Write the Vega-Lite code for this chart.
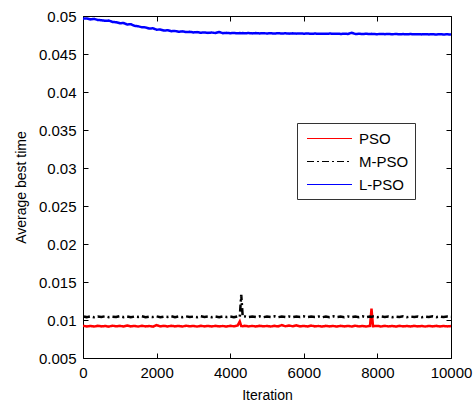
{
  "$schema": "https://vega.github.io/schema/vega-lite/v6.json",
  "width": 368,
  "height": 342,
  "autosize": {"type": "none"},
  "padding": {"left": 83, "top": 16, "right": 25, "bottom": 45},
  "background": "white",
  "config": {
    "view": {"stroke": "black", "strokeWidth": 1},
    "font": "Liberation Sans",
    "axis": {"grid": false, "labelFont": "Liberation Sans", "titleFont": "Liberation Sans", "labelFontSize": 15, "titleFontSize": 14, "labelColor": "black", "titleColor": "black", "titleFontWeight": "normal", "domainColor": "black", "tickColor": "black", "labelFlush": false},
    "legend": {"orient": "none", "legendX": 214, "legendY": 107, "symbolType": "M-2.5,0H2.5", "symbolSize": 324, "symbolStrokeWidth": 1, "symbolOffset": 17, "labelOffset": 20, "labelFontSize": 15, "labelFont": "Liberation Sans", "labelColor": "black", "strokeColor": "#333", "fillColor": "white", "padding": 6, "rowPadding": 5}
  },
  "data": {"values": [
    {"it":0,"PSO":0.00925,"M-PSO":0.01045,"L-PSO":0.04965},
    {"it":100,"PSO":0.00915,"M-PSO":0.01038,"L-PSO":0.04968},
    {"it":200,"PSO":0.00922,"M-PSO":0.01048,"L-PSO":0.04955},
    {"it":300,"PSO":0.00914,"M-PSO":0.01036,"L-PSO":0.04962},
    {"it":400,"PSO":0.00924,"M-PSO":0.01046,"L-PSO":0.04948},
    {"it":500,"PSO":0.00916,"M-PSO":0.01040,"L-PSO":0.04945},
    {"it":600,"PSO":0.00921,"M-PSO":0.01049,"L-PSO":0.04936},
    {"it":700,"PSO":0.00913,"M-PSO":0.01037,"L-PSO":0.04940},
    {"it":800,"PSO":0.00925,"M-PSO":0.01044,"L-PSO":0.04922},
    {"it":900,"PSO":0.00917,"M-PSO":0.01039,"L-PSO":0.04918},
    {"it":1000,"PSO":0.00923,"M-PSO":0.01050,"L-PSO":0.04905},
    {"it":1100,"PSO":0.00915,"M-PSO":0.01038,"L-PSO":0.04908},
    {"it":1200,"PSO":0.00927,"M-PSO":0.01047,"L-PSO":0.04888},
    {"it":1300,"PSO":0.00916,"M-PSO":0.01036,"L-PSO":0.04892},
    {"it":1400,"PSO":0.00922,"M-PSO":0.01046,"L-PSO":0.04870},
    {"it":1500,"PSO":0.00914,"M-PSO":0.01040,"L-PSO":0.04865},
    {"it":1600,"PSO":0.00924,"M-PSO":0.01049,"L-PSO":0.04852},
    {"it":1700,"PSO":0.00916,"M-PSO":0.01037,"L-PSO":0.04850},
    {"it":1800,"PSO":0.00921,"M-PSO":0.01045,"L-PSO":0.04835},
    {"it":1900,"PSO":0.00913,"M-PSO":0.01039,"L-PSO":0.04838},
    {"it":2000,"PSO":0.00932,"M-PSO":0.01048,"L-PSO":0.04820},
    {"it":2100,"PSO":0.00916,"M-PSO":0.01036,"L-PSO":0.04822},
    {"it":2200,"PSO":0.00923,"M-PSO":0.01045,"L-PSO":0.04808},
    {"it":2300,"PSO":0.00915,"M-PSO":0.01040,"L-PSO":0.04812},
    {"it":2400,"PSO":0.00924,"M-PSO":0.01049,"L-PSO":0.04800},
    {"it":2500,"PSO":0.00916,"M-PSO":0.01037,"L-PSO":0.04803},
    {"it":2600,"PSO":0.00922,"M-PSO":0.01046,"L-PSO":0.04793},
    {"it":2700,"PSO":0.00914,"M-PSO":0.01038,"L-PSO":0.04798},
    {"it":2800,"PSO":0.00925,"M-PSO":0.01048,"L-PSO":0.04788},
    {"it":2900,"PSO":0.00917,"M-PSO":0.01039,"L-PSO":0.04792},
    {"it":3000,"PSO":0.00921,"M-PSO":0.01045,"L-PSO":0.04784},
    {"it":3100,"PSO":0.00914,"M-PSO":0.01037,"L-PSO":0.04788},
    {"it":3200,"PSO":0.00924,"M-PSO":0.01049,"L-PSO":0.04780},
    {"it":3300,"PSO":0.00916,"M-PSO":0.01040,"L-PSO":0.04784},
    {"it":3400,"PSO":0.00922,"M-PSO":0.01046,"L-PSO":0.04778},
    {"it":3500,"PSO":0.00915,"M-PSO":0.01036,"L-PSO":0.04782},
    {"it":3600,"PSO":0.00923,"M-PSO":0.01047,"L-PSO":0.04776},
    {"it":3700,"PSO":0.00916,"M-PSO":0.01038,"L-PSO":0.04790},
    {"it":3800,"PSO":0.00921,"M-PSO":0.01048,"L-PSO":0.04774},
    {"it":3900,"PSO":0.00914,"M-PSO":0.01039,"L-PSO":0.04778},
    {"it":4000,"PSO":0.00924,"M-PSO":0.01045,"L-PSO":0.04773},
    {"it":4100,"PSO":0.00917,"M-PSO":0.01037,"L-PSO":0.04777},
    {"it":4200,"PSO":0.00926,"M-PSO":0.01048,"L-PSO":0.04772},
    {"it":4260,"PSO":0.00980,"M-PSO":0.01040,"L-PSO":0.04776},
    {"it":4300,"PSO":0.00921,"M-PSO":0.01330,"L-PSO":0.04773},
    {"it":4340,"PSO":0.00919,"M-PSO":0.01042,"L-PSO":0.04775},
    {"it":4400,"PSO":0.00924,"M-PSO":0.01047,"L-PSO":0.04772},
    {"it":4500,"PSO":0.00916,"M-PSO":0.01038,"L-PSO":0.04776},
    {"it":4600,"PSO":0.00922,"M-PSO":0.01046,"L-PSO":0.04771},
    {"it":4700,"PSO":0.00915,"M-PSO":0.01039,"L-PSO":0.04775},
    {"it":4800,"PSO":0.00924,"M-PSO":0.01048,"L-PSO":0.04771},
    {"it":4900,"PSO":0.00917,"M-PSO":0.01037,"L-PSO":0.04774},
    {"it":5000,"PSO":0.00921,"M-PSO":0.01045,"L-PSO":0.04770},
    {"it":5100,"PSO":0.00914,"M-PSO":0.01040,"L-PSO":0.04774},
    {"it":5200,"PSO":0.00923,"M-PSO":0.01049,"L-PSO":0.04769},
    {"it":5300,"PSO":0.00916,"M-PSO":0.01037,"L-PSO":0.04773},
    {"it":5400,"PSO":0.00932,"M-PSO":0.01046,"L-PSO":0.04770},
    {"it":5500,"PSO":0.00918,"M-PSO":0.01039,"L-PSO":0.04772},
    {"it":5600,"PSO":0.00928,"M-PSO":0.01047,"L-PSO":0.04768},
    {"it":5700,"PSO":0.00917,"M-PSO":0.01038,"L-PSO":0.04772},
    {"it":5800,"PSO":0.00929,"M-PSO":0.01046,"L-PSO":0.04768},
    {"it":5900,"PSO":0.00916,"M-PSO":0.01040,"L-PSO":0.04771},
    {"it":6000,"PSO":0.00922,"M-PSO":0.01048,"L-PSO":0.04767},
    {"it":6100,"PSO":0.00915,"M-PSO":0.01037,"L-PSO":0.04770},
    {"it":6200,"PSO":0.00926,"M-PSO":0.01045,"L-PSO":0.04766},
    {"it":6300,"PSO":0.00916,"M-PSO":0.01039,"L-PSO":0.04769},
    {"it":6400,"PSO":0.00921,"M-PSO":0.01047,"L-PSO":0.04766},
    {"it":6500,"PSO":0.00914,"M-PSO":0.01036,"L-PSO":0.04768},
    {"it":6600,"PSO":0.00923,"M-PSO":0.01046,"L-PSO":0.04765},
    {"it":6700,"PSO":0.00916,"M-PSO":0.01038,"L-PSO":0.04769},
    {"it":6800,"PSO":0.00921,"M-PSO":0.01048,"L-PSO":0.04766},
    {"it":6900,"PSO":0.00914,"M-PSO":0.01039,"L-PSO":0.04768},
    {"it":7000,"PSO":0.00923,"M-PSO":0.01045,"L-PSO":0.04764},
    {"it":7100,"PSO":0.00916,"M-PSO":0.01037,"L-PSO":0.04767},
    {"it":7200,"PSO":0.00922,"M-PSO":0.01047,"L-PSO":0.04764},
    {"it":7300,"PSO":0.00915,"M-PSO":0.01039,"L-PSO":0.04780},
    {"it":7400,"PSO":0.00924,"M-PSO":0.01046,"L-PSO":0.04763},
    {"it":7500,"PSO":0.00916,"M-PSO":0.01038,"L-PSO":0.04766},
    {"it":7600,"PSO":0.00921,"M-PSO":0.01048,"L-PSO":0.04763},
    {"it":7700,"PSO":0.00915,"M-PSO":0.01037,"L-PSO":0.04766},
    {"it":7800,"PSO":0.00923,"M-PSO":0.01045,"L-PSO":0.04762},
    {"it":7840,"PSO":0.01150,"M-PSO":0.01040,"L-PSO":0.04765},
    {"it":7880,"PSO":0.00918,"M-PSO":0.01047,"L-PSO":0.04762},
    {"it":8000,"PSO":0.00922,"M-PSO":0.01038,"L-PSO":0.04761},
    {"it":8100,"PSO":0.00915,"M-PSO":0.01046,"L-PSO":0.04764},
    {"it":8200,"PSO":0.00923,"M-PSO":0.01039,"L-PSO":0.04761},
    {"it":8300,"PSO":0.00916,"M-PSO":0.01047,"L-PSO":0.04763},
    {"it":8400,"PSO":0.00921,"M-PSO":0.01037,"L-PSO":0.04760},
    {"it":8500,"PSO":0.00914,"M-PSO":0.01045,"L-PSO":0.04763},
    {"it":8600,"PSO":0.00923,"M-PSO":0.01039,"L-PSO":0.04760},
    {"it":8700,"PSO":0.00916,"M-PSO":0.01048,"L-PSO":0.04762},
    {"it":8800,"PSO":0.00921,"M-PSO":0.01038,"L-PSO":0.04759},
    {"it":8900,"PSO":0.00915,"M-PSO":0.01046,"L-PSO":0.04762},
    {"it":9000,"PSO":0.00923,"M-PSO":0.01039,"L-PSO":0.04759},
    {"it":9100,"PSO":0.00916,"M-PSO":0.01047,"L-PSO":0.04761},
    {"it":9200,"PSO":0.00921,"M-PSO":0.01037,"L-PSO":0.04758},
    {"it":9300,"PSO":0.00914,"M-PSO":0.01045,"L-PSO":0.04761},
    {"it":9400,"PSO":0.00922,"M-PSO":0.01040,"L-PSO":0.04758},
    {"it":9500,"PSO":0.00916,"M-PSO":0.01048,"L-PSO":0.04760},
    {"it":9600,"PSO":0.00923,"M-PSO":0.01038,"L-PSO":0.04757},
    {"it":9700,"PSO":0.00915,"M-PSO":0.01046,"L-PSO":0.04760},
    {"it":9800,"PSO":0.00921,"M-PSO":0.01039,"L-PSO":0.04757},
    {"it":9900,"PSO":0.00916,"M-PSO":0.01047,"L-PSO":0.04759},
    {"it":10000,"PSO":0.00920,"M-PSO":0.01044,"L-PSO":0.04756}
  ]},
  "transform": [{"fold": ["PSO", "M-PSO", "L-PSO"], "as": ["series", "value"]}],
  "layer": [
    {
      "mark": {"type": "line", "strokeWidth": 2.5, "clip": true},
      "encoding": {
        "x": {"field": "it", "type": "quantitative", "scale": {"domain": [0, 10000], "nice": false},
          "axis": {"title": "Iteration", "values": [0,2000,4000,6000,8000,10000], "format": "d", "tickSize": -5, "labelPadding": 12, "titlePadding": 8, "domain": false}},
        "y": {"field": "value", "type": "quantitative", "scale": {"domain": [0.005, 0.05], "nice": false, "zero": false},
          "axis": {"title": "Average best time", "values": [0.005,0.01,0.015,0.02,0.025,0.03,0.035,0.04,0.045,0.05], "format": "~g", "tickSize": -5, "labelPadding": 12, "titlePadding": 10, "domain": false}},
        "color": {"field": "series", "type": "nominal", "scale": {"domain": ["PSO", "M-PSO", "L-PSO"], "range": ["#ff0000", "#000000", "#0000ff"]}, "legend": {"title": null}},
        "strokeDash": {"field": "series", "type": "nominal", "scale": {"domain": ["PSO", "M-PSO", "L-PSO"], "range": [[1,0],[7,3,2,3],[1,0]]}, "legend": {"title": null}}
      }
    },
    {
      "mark": {"type": "line", "opacity": 0},
      "encoding": {
        "x": {"field": "it", "type": "quantitative", "axis": {"orient": "top", "values": [0,2000,4000,6000,8000,10000], "labels": false, "title": null, "tickSize": -5, "domain": false}},
        "y": {"field": "value", "type": "quantitative", "axis": {"orient": "right", "values": [0.005,0.01,0.015,0.02,0.025,0.03,0.035,0.04,0.045,0.05], "labels": false, "title": null, "tickSize": -5, "domain": false}}
      }
    }
  ],
  "resolve": {"axis": {"x": "independent", "y": "independent"}}
}
